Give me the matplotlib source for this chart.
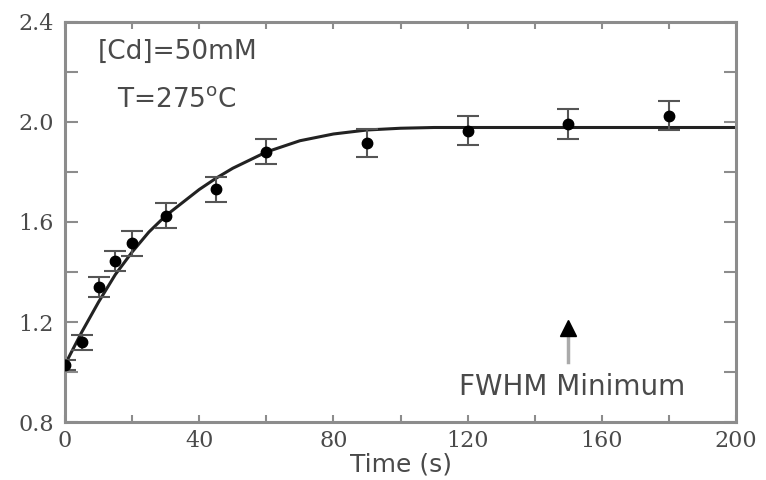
import matplotlib
matplotlib.use("Agg")
import matplotlib.pyplot as plt
from matplotlib.ticker import MultipleLocator, FormatStrFormatter

# measured points (time in s, value)
time_s = [0, 5, 10, 15, 20, 30, 45, 60, 90, 120, 150, 180]
values = [1.03, 1.12, 1.34, 1.445, 1.515, 1.625, 1.73, 1.88, 1.915, 1.965, 1.99, 2.025]
errors = [0.02, 0.03, 0.04, 0.04, 0.05, 0.05, 0.05, 0.05, 0.055, 0.058, 0.06, 0.058]

# fitted curve
fit_t = [0, 5, 10, 15, 20, 25, 30, 40, 45, 50, 60, 70, 80, 90, 100, 110, 200]
fit_v = [1.03, 1.16, 1.28, 1.39, 1.48, 1.56, 1.625, 1.73, 1.775, 1.815, 1.88, 1.925, 1.952, 1.968, 1.975, 1.978, 1.978]

# FWHM minimum marker
fwhm_t = 150
fwhm_shaft = [1.04, 1.16]
fwhm_tip = 1.175

SPINE = "#8c8c8c"
TEXT = "#4a4a4a"

fig = plt.figure(figsize=(7.66, 4.8), dpi=100)
ax = fig.add_axes([0.0849, 0.1208, 0.876, 0.8334])

ax.plot(fit_t, fit_v, color="#222222", linewidth=2.2, zorder=2)
ax.errorbar(time_s, values, yerr=errors, fmt="o", color="black", markersize=7.5,
            ecolor="#555555", elinewidth=1.5, capsize=8, capthick=1.5, zorder=3)

ax.plot([fwhm_t, fwhm_t], fwhm_shaft, color="#aaaaaa", linewidth=2.5, zorder=2)
ax.plot([fwhm_t], [fwhm_tip], marker="^", color="black", markersize=11, linestyle="none", zorder=3)

ax.text(33.5, 2.28, "[Cd]=50mM", fontsize=19, family="DejaVu Sans", color=TEXT,
        ha="center", va="center")
ax.text(33.5, 2.088, r"T=275$^{\mathrm{o}}$C", fontsize=19, family="DejaVu Sans", color=TEXT,
        ha="center", va="center")
ax.text(151, 0.94, "FWHM Minimum", fontsize=20, family="DejaVu Sans", color=TEXT,
        ha="center", va="center")

ax.set_xlim(0, 200)
ax.set_ylim(0.8, 2.4)
ax.xaxis.set_major_locator(MultipleLocator(40))
ax.xaxis.set_minor_locator(MultipleLocator(20))
ax.yaxis.set_major_locator(MultipleLocator(0.4))
ax.yaxis.set_minor_locator(MultipleLocator(0.2))
ax.yaxis.set_major_formatter(FormatStrFormatter("%.1f"))
ax.xaxis.set_major_formatter(FormatStrFormatter("%d"))

for spine in ax.spines.values():
    spine.set_color(SPINE)
    spine.set_linewidth(2.2)

ax.tick_params(axis="both", which="both", direction="in", color=SPINE, width=1.5,
               top=True, right=True, labelcolor=TEXT, labelsize=16)
ax.tick_params(axis="y", which="both", length=9, pad=8)
ax.tick_params(axis="x", which="both", length=5, pad=6)
for lbl in ax.get_xticklabels() + ax.get_yticklabels():
    lbl.set_family("DejaVu Serif")

ax.set_xlabel("Time (s)", fontsize=18, family="DejaVu Sans", color=TEXT, labelpad=0)

fig.savefig("out.png", dpi=100)
